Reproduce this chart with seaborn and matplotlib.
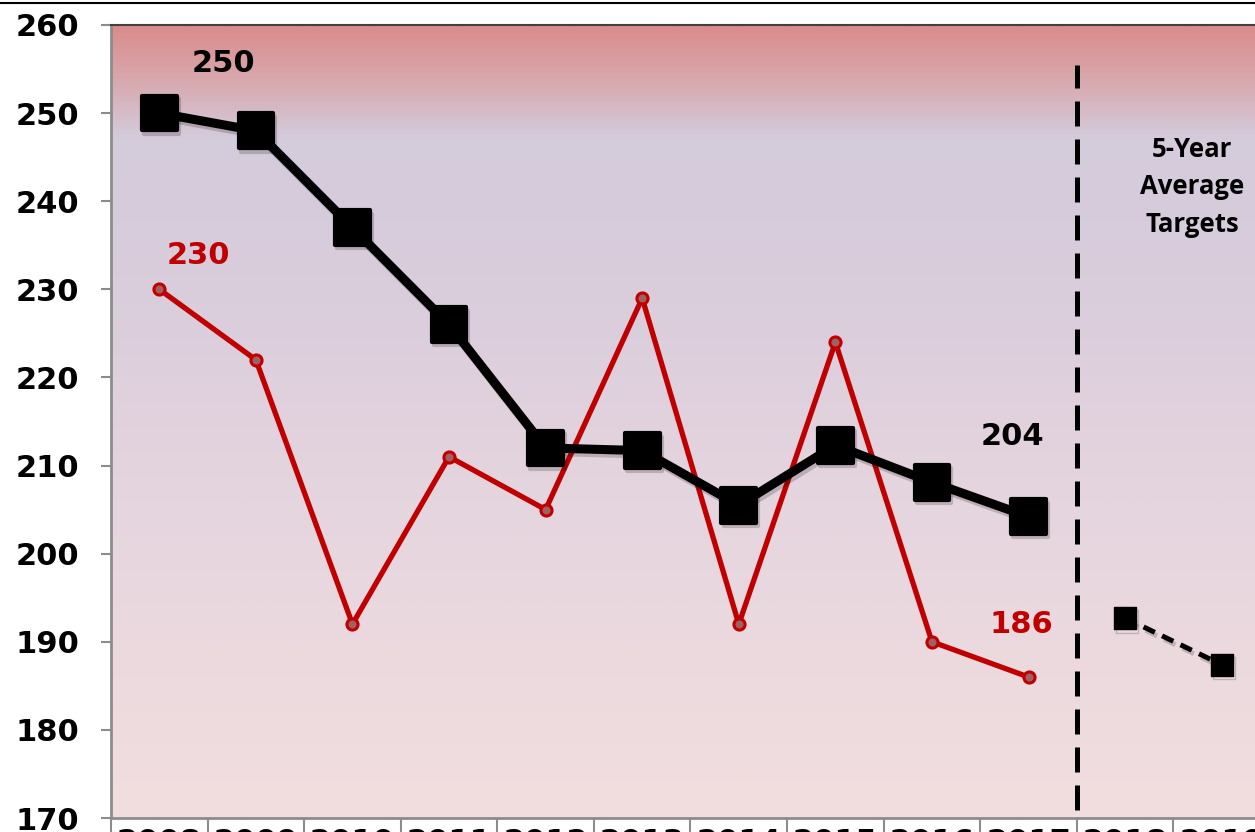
import numpy as np
import pandas as pd
import matplotlib
matplotlib.use("Agg")
import matplotlib.pyplot as plt
import matplotlib.patheffects as pe
from matplotlib.colors import LinearSegmentedColormap
from matplotlib.markers import MarkerStyle
from matplotlib.lines import Line2D
import seaborn as sns

# --- data ---
years = ['2008', '2009', '2010', '2011', '2012', '2013', '2014', '2015',
         '2016', '2017', '2018', '2019']
actual_years = years[:10]
target_years = years[10:]
five_year_avg = [250, 248, 237, 226, 212, 211.7, 205.5, 212.3, 208.1, 204.2]
annual_value = [230, 222, 192, 211, 205, 229, 192, 224, 190, 186]
target_avg = [192.7, 187.4]
target_label = '5-Year\nAverage\nTargets'

xpos = {y: i for i, y in enumerate(years)}
df_avg = pd.DataFrame({'year': actual_years, 'value': five_year_avg})
df_ann = pd.DataFrame({'year': actual_years, 'value': annual_value})
df_tgt = pd.DataFrame({'year': target_years, 'value': target_avg})
for d in (df_avg, df_ann, df_tgt):
    d['x'] = d['year'].map(xpos)

sns.set_style('white')
plt.rcParams['font.family'] = ['DejaVu Sans']

fig = plt.figure(figsize=(12.55, 8.32), dpi=100)
ax = fig.add_axes([111 / 1255, 14 / 832, 1159 / 1255, 793 / 832])

# background gradient (red top -> lavender -> pale pink)
stops = [(0.0, (219/255, 140/255, 140/255)),
         (0.06, (216/255, 165/255, 170/255)),
         (0.14, (212/255, 203/255, 219/255)),
         (0.35, (218/255, 205/255, 220/255)),
         (0.6, (229/255, 213/255, 222/255)),
         (1.0, (242/255, 222/255, 222/255))]
cmap = LinearSegmentedColormap.from_list('bg', stops)
grad = np.linspace(0, 1, 400).reshape(-1, 1)
ax.imshow(grad, extent=[0, 1, 0, 1], transform=ax.transAxes, aspect='auto',
          cmap=cmap, zorder=0, interpolation='bilinear')

shadow = [pe.SimpleLineShadow(offset=(1.5, -2.5), alpha=0.18, shadow_color='k'), pe.Normal()]

sns.lineplot(data=df_ann, x='x', y='value', ax=ax, color='#C00000', linewidth=3.8,
             marker='o', markersize=8, markerfacecolor='#a06060', markeredgecolor='#C00000',
             markeredgewidth=2.2, zorder=3, solid_joinstyle='round', solid_capstyle='round')

sq = MarkerStyle('s', joinstyle='round')
sns.lineplot(data=df_avg, x='x', y='value', ax=ax, color='black', linewidth=6.5,
             marker=sq, markersize=25, markeredgewidth=3, markeredgecolor='black',
             markerfacecolor='black', zorder=4, path_effects=shadow)

sns.lineplot(data=df_tgt, x='x', y='value', ax=ax, color='black', linewidth=3.6,
             linestyle=(0, (2.5, 1.6)), marker=sq, markersize=16, markeredgewidth=1,
             markerfacecolor='black', markeredgecolor='black', zorder=4, path_effects=shadow)

# divider between actual and targets
ax.axvline(len(actual_years) - 0.5, ymin=0.01, ymax=0.95, color='black', linewidth=3.6,
           linestyle=(0, (5, 2.6)), zorder=2)

# value labels
lab = dict(fontsize=22, fontweight='bold', ha='center', va='center',
           textcoords='offset points', zorder=5)
ax.annotate(f'{round(five_year_avg[0])}', (df_avg['x'].iloc[0], five_year_avg[0]),
            xytext=(46, 36), color='black', **lab)
ax.annotate(f'{round(five_year_avg[-1])}', (df_avg['x'].iloc[-1], five_year_avg[-1]),
            xytext=(-11.5, 57.5), color='black', **lab)
ax.annotate(f'{annual_value[0]}', (df_ann['x'].iloc[0], annual_value[0]),
            xytext=(28, 24), color='#C00000', **lab)
ax.annotate(f'{annual_value[-1]}', (df_ann['x'].iloc[-1], annual_value[-1]),
            xytext=(-5.5, 37.5), color='#C00000', **lab)

ax.text((1192 - 111) / 1159, (818 - 187) / 793, target_label, transform=ax.transAxes,
        ha='center', va='center', fontsize=18.5, fontweight='bold',
        family=['Open Sans', 'DejaVu Sans'], linespacing=1.5, color='black', zorder=5)

# axes
ax.set_xlim(-0.5, len(years) - 0.5)
ax.set_ylim(170, 260)
ax.set_yticks(np.arange(170, 261, 10))
ax.set_xticks(range(len(years)))
ax.set_xticklabels(years)
ax.set_xticks(np.arange(len(years) + 1) - 0.5, minor=True)
ax.set_xlabel('')
ax.set_ylabel('')
ax.tick_params(axis='y', which='major', length=7, width=1.5, color='#8c8c8c', pad=16,
               labelsize=22, labelcolor='black', left=True)
ax.tick_params(axis='x', which='major', length=0, pad=7.2, labelsize=22, labelcolor='black')
ax.tick_params(axis='x', which='minor', length=14, width=1.5, color='#8c8c8c', bottom=True,
               direction='out')
for t in ax.get_xticklabels() + ax.get_yticklabels():
    t.set_fontweight('bold')

for s in ['left', 'bottom']:
    ax.spines[s].set_color('#8c8c8c')
    ax.spines[s].set_linewidth(2)
ax.spines['top'].set_color('#404040')
ax.spines['top'].set_linewidth(1.5)
ax.spines['right'].set_visible(False)

fig.add_artist(Line2D([0, 1], [1 - 3 / 832, 1 - 3 / 832], transform=fig.transFigure,
                      color='black', linewidth=1.5))

fig.savefig('out.png', dpi=100)
